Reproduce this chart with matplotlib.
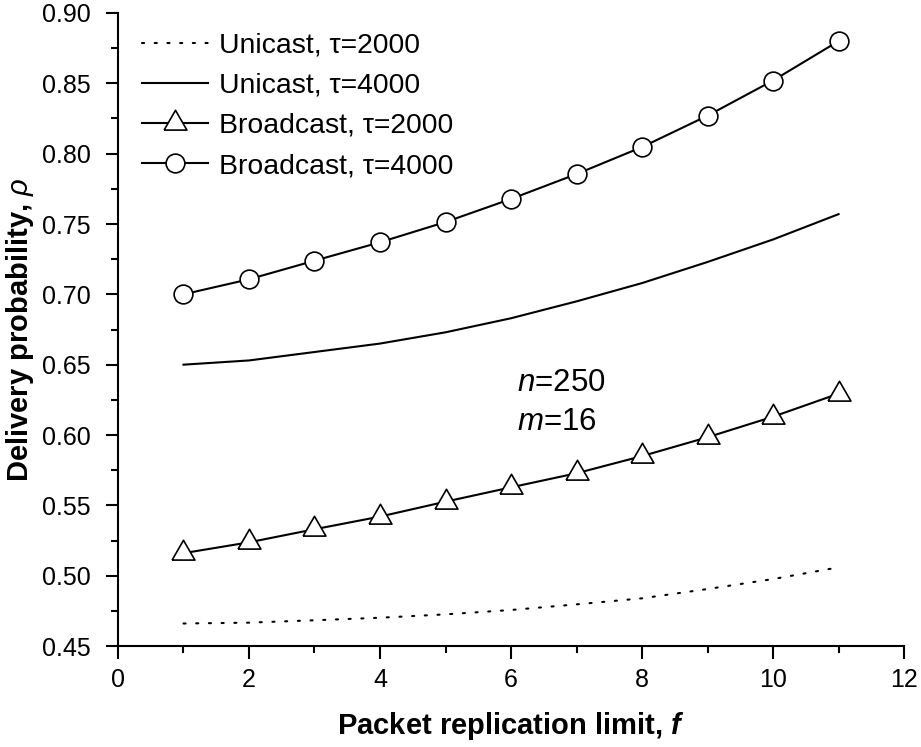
import matplotlib
matplotlib.use('Agg')
import matplotlib.pyplot as plt
from matplotlib.ticker import MultipleLocator, FormatStrFormatter

''' Delivery probability vs packet replication limit '''

f = [1, 2, 3, 4, 5, 6, 7, 8, 9, 10, 11]
unicast_2000 = [0.466, 0.4666, 0.4683, 0.4701, 0.4725, 0.4756, 0.4796, 0.4839, 0.4905, 0.4976, 0.5059]
unicast_4000 = [0.650, 0.653, 0.659, 0.665, 0.673, 0.683, 0.695, 0.708, 0.723, 0.739, 0.757]
broadcast_2000 = [0.516, 0.5237, 0.533, 0.542, 0.5526, 0.5628, 0.5728, 0.585, 0.5984, 0.613, 0.6294]
broadcast_4000 = [0.700, 0.7107, 0.7239, 0.737, 0.7514, 0.7678, 0.7855, 0.8047, 0.827, 0.852, 0.880]

plt.rcParams['font.family'] = ['Liberation Sans', 'DejaVu Sans']
plt.rcParams['mathtext.fontset'] = 'custom'
plt.rcParams['mathtext.rm'] = 'Liberation Sans'
plt.rcParams['mathtext.it'] = 'Liberation Sans:italic'
plt.rcParams['mathtext.bf'] = 'Liberation Sans:bold:italic'

fig = plt.figure(figsize=(9.21, 7.47), dpi=100)
ax = fig.add_axes([0.1281, 0.1352, 0.8535, 0.8474])

# equilateral triangle centred on its centroid
tri = [(-1, -0.577), (1, -0.577), (0, 1.155), (-1, -0.577)]

ax.plot(f, unicast_2000, color='black', lw=1.5, linestyle=(0, (1, 5.1)),
        dash_capstyle='round', label='Unicast, τ=2000')
ax.plot(f, unicast_4000, color='black', lw=1.5, label='Unicast, τ=4000')
ax.plot(f, broadcast_2000, color='black', lw=1.5, marker=tri, ms=19,
        mfc='white', mec='black', mew=1.2, label='Broadcast, τ=2000')
ax.plot(f, broadcast_4000, color='black', lw=1.5, marker='o', ms=13.5,
        mfc='white', mec='black', mew=1.2, label='Broadcast, τ=4000')

ax.set_xlim(0, 12)
ax.set_ylim(0.45, 0.90)
ax.xaxis.set_major_locator(MultipleLocator(2))
ax.xaxis.set_minor_locator(MultipleLocator(1))
ax.yaxis.set_major_locator(MultipleLocator(0.05))
ax.yaxis.set_minor_locator(MultipleLocator(0.025))
ax.yaxis.set_major_formatter(FormatStrFormatter('%.2f'))

ax.spines['top'].set_visible(False)
ax.spines['right'].set_visible(False)
ax.spines['left'].set_linewidth(1.5)
ax.spines['bottom'].set_linewidth(1.5)
ax.tick_params(which='major', direction='out', length=9, width=1.5, labelsize=18)
ax.tick_params(which='minor', direction='out', length=5, width=1.5)
ax.tick_params(axis='x', which='major', pad=7)
ax.tick_params(axis='y', which='major', pad=10.5)

ax.set_xlabel('Packet replication limit, $\\mathbf{f}$', fontsize=21,
              fontweight='bold', labelpad=13)
ax.set_ylabel('Delivery probability, $\\mathit{\\rho}$', fontsize=21,
              fontweight='bold', labelpad=4)

ax.text(6.09, 0.6313, '$\\mathit{n}$=250', fontsize=22.5)
ax.text(6.09, 0.6035, '$\\mathit{m}$=16', fontsize=22.5)

ax.legend(loc='upper left', bbox_to_anchor=(0.0305, 0.969), frameon=False,
          fontsize=20.4, handlelength=2.32, handletextpad=0.39, labelspacing=0.5,
          borderpad=0, borderaxespad=0)

fig.savefig('out.png', dpi=100)
